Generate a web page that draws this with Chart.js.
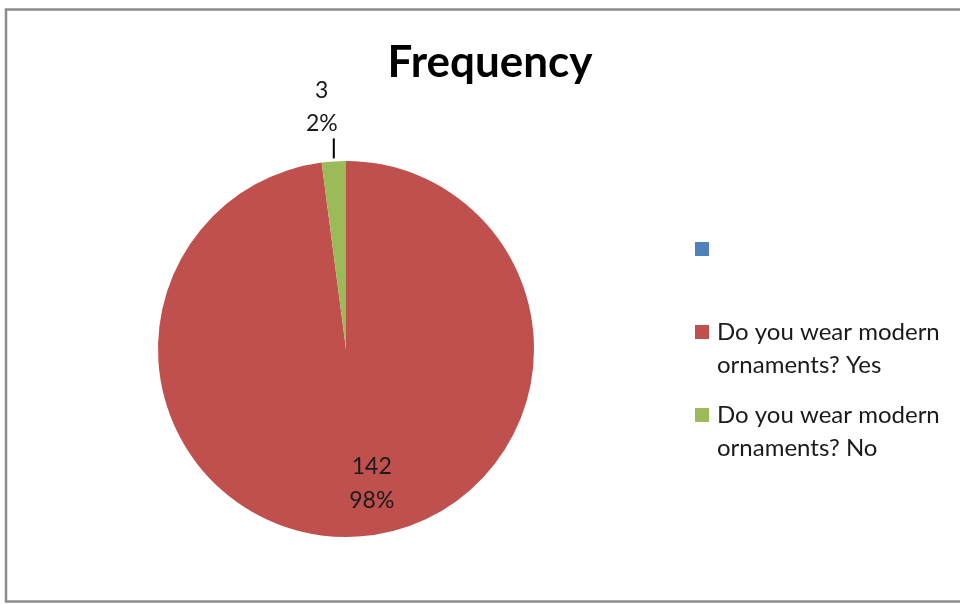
<!DOCTYPE html>
<html>
<head>
<meta charset="utf-8">
<script src="https://cdn.jsdelivr.net/npm/chart.js@4"></script>
<style>
  html, body { margin: 0; padding: 0; background: #fff; }
  #wrap { width: 960px; height: 604px; }
</style>
</head>
<body>
<div id="wrap"><canvas id="pieChart" width="960" height="604"></canvas></div>
<script>
var chartTitle = 'Frequency';
var categories = ['', 'Do you wear modern ornaments? Yes', 'Do you wear modern ornaments? No'];
var counts = [0, 142, 3];
var colors = ['#4F81BD', '#C0504D', '#9BBB59'];

var FONT = 'Lato, "Open Sans", sans-serif';

function wrapText(ctx, text, maxW) {
    var words = text.split(' ');
    var lines = [];
    var cur = '';
    words.forEach(function(w) {
        var test = cur ? cur + ' ' + w : w;
        if (ctx.measureText(test).width > maxW && cur) {
            lines.push(cur);
            cur = w;
        } else {
            cur = test;
        }
    });
    if (cur) lines.push(cur);
    return lines;
}

// frame, title and legend
var decorPlugin = {
    id: 'decor',
    afterDraw: function(chart) {
        var ctx = chart.ctx;
        ctx.save();
        ctx.strokeStyle = '#8c8c8c';
        ctx.lineWidth = 2.5;
        ctx.strokeRect(6, 9.5, 970, 592);

        ctx.fillStyle = '#000';
        ctx.font = 'bold 44px ' + FONT;
        ctx.textAlign = 'center';
        ctx.textBaseline = 'alphabetic';
        ctx.fillText(chartTitle, 490, 77);

        // legend
        ctx.font = '24px ' + FONT;
        ctx.textAlign = 'left';
        ctx.textBaseline = 'middle';
        var y = 249;
        var labels = chart.data.labels;
        labels.forEach(function(lab, i) {
            ctx.fillStyle = colors[i];
            ctx.fillRect(695, y - 7, 14, 14);
            ctx.fillStyle = '#1a1a1a';
            var lines = lab ? wrapText(ctx, lab, 240) : [];
            lines.forEach(function(l, j) {
                ctx.fillText(l, 717, y + j * 33);
            });
            y += 83;
        });
        ctx.restore();
    }
};

// value + percentage labels
var labelPlugin = {
    id: 'sliceLabels',
    afterDatasetsDraw: function(chart) {
        var ctx = chart.ctx;
        var meta = chart.getDatasetMeta(0);
        var data = chart.data.datasets[0].data;
        var total = data.reduce(function(a, b) { return a + b; }, 0);
        ctx.save();
        ctx.font = '23px ' + FONT;
        ctx.fillStyle = '#1a1a1a';
        ctx.textAlign = 'center';
        ctx.textBaseline = 'middle';
        meta.data.forEach(function(arc, i) {
            var v = data[i];
            if (!v) return;
            var pct = Math.round(v / total * 100) + '%';
            var mid = (arc.startAngle + arc.endAngle) / 2;
            var cx = arc.x, cy = arc.y, r = arc.outerRadius;
            var cos = Math.cos(mid), sin = Math.sin(mid);
            if (v / total < 0.05) {
                var x0 = cx + cos * r;
                var y0 = cy + sin * (r + 3);
                var y1 = y0 - 20;
                ctx.strokeStyle = '#000';
                ctx.lineWidth = 2;
                ctx.beginPath();
                ctx.moveTo(x0, y0);
                ctx.lineTo(x0, y1);
                ctx.stroke();
                ctx.fillText(String(v), x0 - 12, y1 - 48);
                ctx.fillText(pct, x0 - 12, y1 - 15);
            } else {
                var lx = cx + cos * r * 0.72 + 17;
                var ly = cy + sin * r * 0.72;
                ctx.fillText(String(v), lx, ly - 17);
                ctx.fillText(pct, lx, ly + 17);
            }
        });
        ctx.restore();
    }
};

var ctxPie = document.getElementById('pieChart').getContext('2d');
var pieChart = new Chart(ctxPie, {
    type: 'pie',
    data: {
        labels: categories,
        datasets: [{
            data: counts,
            backgroundColor: colors,
            borderColor: '#ffffff',
            borderWidth: 0
        }]
    },
    options: {
        responsive: false,
        animation: false,
        layout: {
            padding: { left: 158, right: 426, top: 161, bottom: 67 }
        },
        plugins: {
            legend: { display: false },
            title: { display: false },
            tooltip: { enabled: false }
        }
    },
    plugins: [decorPlugin, labelPlugin]
});
</script>
</body>
</html>
